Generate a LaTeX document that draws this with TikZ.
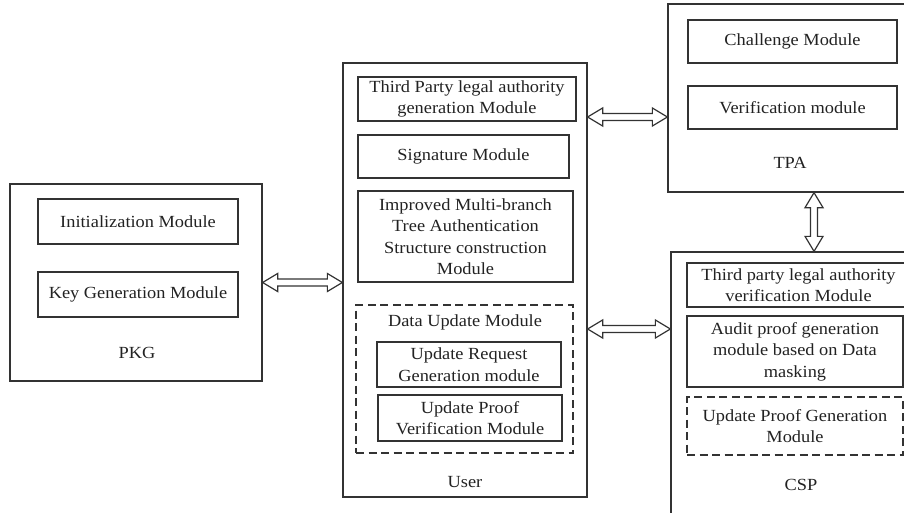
\documentclass[tikz,border=0pt]{standalone}
\usepackage{fontspec}
\setmainfont{Liberation Serif}[FakeStretch=1.08]
\usetikzlibrary{calc}

\definecolor{lc}{HTML}{333333}
\definecolor{tc}{HTML}{222222}

\tikzset{
  frame/.style={draw=lc, line width=1.3pt, inner sep=0pt},
  modbox/.style={draw=lc, line width=1.3pt, align=center, inner sep=0pt,
    text=tc, font=\fontsize{17}{21.5}\selectfont},
  dashbox/.style={modbox, dash pattern=on 8pt off 4.5pt},
  lbl/.style={text=tc, font=\fontsize{17}{21.5}\selectfont, inner sep=0pt, align=center},
  arrowline/.style={draw=lc, line width=1.2pt, fill=white, line join=miter},
}

% box from (x1,y1) to (x2,y2): name, style, x1, y1, x2, y2, text
\newcommand\placebox[7]{%
  \node[#2, minimum width={(#5)-(#3)}, minimum height={(#6)-(#4)}]
    (#1) at ({((#3)+(#5))/2},{((#4)+(#6))/2}) {#7};}

% hollow double-headed arrow, horizontal (left point, right point)
\newcommand\hdarrow[2]{%
  \draw[arrowline] let \p1=(#1), \p2=(#2) in
    (\x1,\y1) -- ++(15pt,9pt) -- ++(0pt,-5.5pt) -- ({\x2-15pt},{\y1+3.5pt})
    -- ++(0pt,5.5pt) -- (\x2,\y1) -- ++(-15pt,-9pt) -- ++(0pt,5.5pt)
    -- ({\x1+15pt},{\y1-3.5pt}) -- ++(0pt,-5.5pt) -- cycle;}

% hollow double-headed arrow, vertical (top point, bottom point)
\newcommand\vdarrow[2]{%
  \draw[arrowline] let \p1=(#1), \p2=(#2) in
    (\x1,\y1) -- ++(9pt,-15pt) -- ++(-5.5pt,0pt) -- ({\x1+3.5pt},{\y2+15pt})
    -- ++(5.5pt,0pt) -- (\x1,\y2) -- ++(-9pt,15pt) -- ++(5.5pt,0pt)
    -- ({\x1-3.5pt},{\y1-15pt}) -- ++(-5.5pt,0pt) -- cycle;}

\begin{document}
\begin{tikzpicture}[x=1pt, y=-1pt]
\useasboundingbox (0,0) rectangle (904,513);
\clip (0,0) rectangle (904,513);

% PKG
\placebox{pkg}{frame}{10}{184}{262}{381}{}
\placebox{init}{modbox}{38}{199}{238}{244}{Initialization Module}
\placebox{keygen}{modbox}{38}{272}{238}{317}{Key Generation Module}
\node[lbl] (pkglbl) at (137,353) {PKG};

% User
\placebox{user}{frame}{343}{63}{587}{497}{}
\placebox{tpagen}{modbox}{358}{77}{576}{121}{Third Party legal authority\\generation Module}
\placebox{sig}{modbox}{358}{135}{569}{178}{Signature Module}
\placebox{mbt}{modbox}{358}{191}{573}{282}{Improved Multi-branch\\Tree Authentication\\Structure construction\\Module}
\placebox{dum}{dashbox}{356}{305}{573}{453}{}
\node[lbl] (dumlbl) at (465,322) {Data Update Module};
\placebox{ureq}{modbox}{377}{342}{561}{387}{Update Request\\Generation module}
\placebox{upv}{modbox}{378}{395}{562}{441}{Update Proof\\Verification Module}
\node[lbl] (userlbl) at (465,482) {User};

% TPA
\placebox{tpa}{frame}{668}{4}{920}{192}{}
\placebox{chal}{modbox}{688}{20}{897}{63}{Challenge Module}
\placebox{verif}{modbox}{688}{86}{897}{129}{Verification module}
\node[lbl] (tpalbl) at (790,163) {TPA};

% CSP
\placebox{csp}{frame}{671}{252}{920}{530}{}
\placebox{tpaver}{modbox}{687}{263}{910}{307}{Third party legal authority\\verification Module}
\placebox{audit}{modbox}{687}{316}{903}{387}{Audit proof generation\\module based on Data\\masking}
\placebox{upg}{dashbox}{687}{397}{903}{455}{Update Proof Generation\\Module}
\node[lbl] (csplbl) at (801,485) {CSP};

% connectors
\coordinate (ut) at (user.east |- 0,117);
\coordinate (uc) at (user.east |- 0,329);
\coordinate (tc) at (814,0 |- tpa.south);
\hdarrow{pkg.east}{pkg.east -| user.west}
\hdarrow{ut}{ut -| tpa.west}
\hdarrow{uc}{uc -| csp.west}
\vdarrow{tc}{tc |- csp.north}
\end{tikzpicture}
\end{document}
